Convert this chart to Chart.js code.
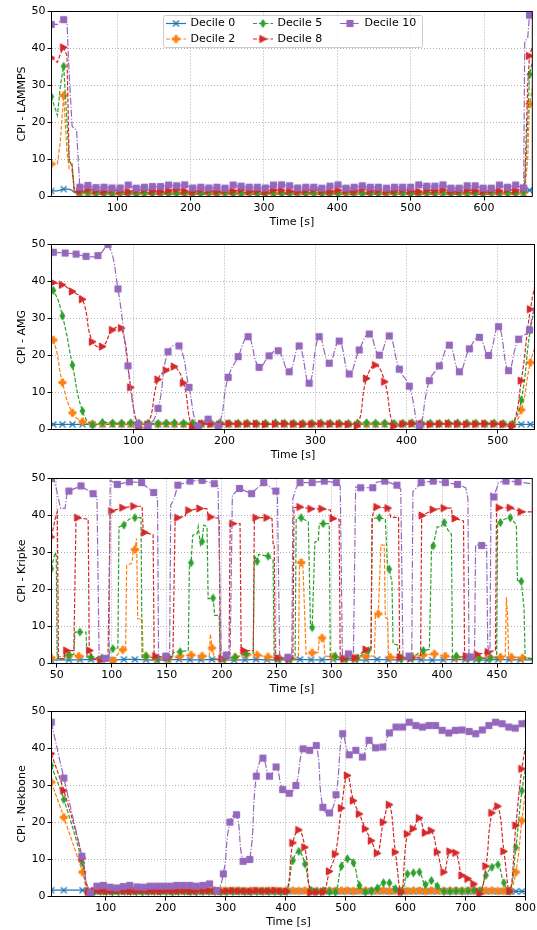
<!DOCTYPE html>
<html>
<head>
<meta charset="utf-8">
<script src="https://cdn.jsdelivr.net/npm/chart.js"></script>
<style>
  html, body { margin: 0; padding: 0; background: #fff; }
  body { width: 537px; height: 930px; position: relative; overflow: hidden; }
  canvas { position: absolute; left: 0; }
</style>
</head>
<body>
<canvas id="lammps" width="537" height="230" style="top:0px"></canvas>
<canvas id="amg" width="537" height="230" style="top:233px"></canvas>
<canvas id="kripke" width="537" height="230" style="top:467px"></canvas>
<canvas id="nekbone" width="537" height="230" style="top:700px"></canvas>
<script>
// ---- data -------------------------------------------------------------
// integer time = point with a marker, x.5 time = line-only point
const labels = ['Decile 0', 'Decile 2', 'Decile 5', 'Decile 8', 'Decile 10'];
const yTicks = [0, 10, 20, 30, 40, 50];
const lammpsTicks = [100, 200, 300, 400, 500, 600];
const amgTicks = [100, 200, 300, 400, 500];
const kripkeTicks = [50, 100, 150, 200, 250, 300, 350, 400, 450];
const nekTicks = [100, 200, 300, 400, 500, 600, 700, 800];

// LAMMPS
const lammpsTime = [10, 18.5, 22.5, 27, 31.5, 34.5, 38.5, 41.5, 44.5, 49,
  60, 71, 82, 93, 104, 115, 126, 137, 148, 159, 170,
  181, 192, 203, 214, 225, 236, 247, 258, 269, 280,
  291, 302, 313, 324, 335, 346, 357, 368, 379, 390,
  401, 412, 423, 434, 445, 456, 467, 478, 489, 500,
  511, 522, 533, 544, 555, 566, 577, 588, 599, 610,
  621, 632, 643, 654,
  655.5, 659.5, 662, 666.5];
const lammpsD10 = [46.5, 46.5, 47.6, 47.8, 47.0, 33, 19, 18.4, 18, 2.5,
  3.0, 2.4, 2.5, 2.3, 2.3, 3.1, 2.25, 2.5, 2.7, 2.7, 3.1,
  2.9, 3.15, 2.3, 2.5, 2.3, 2.5, 2.25, 3.1, 2.8, 2.5,
  2.5, 2.3, 3.1, 3.15, 2.9, 2.3, 2.5, 2.5, 2.25, 2.8,
  3.15, 2.25, 2.5, 2.9, 2.5, 2.5, 2.25, 2.5, 2.5, 2.5,
  3.15, 2.8, 2.8, 3.15, 2.25, 2.25, 2.9, 2.9, 2.25, 2.25,
  3.1, 2.5, 3.1, 2.3,
  42, 42.7, 49, 49];
const lammpsD8 = [37.5, 36.3, 38.5, 40.3, 38, 10, 8, 1.5, 1.3, 1.5,
  2.0, 1.6, 1.4, 1.8, 1.5, 1.3, 1.7, 1.9, 1.5, 1.4, 1.6,
  2.0, 1.5, 1.3, 1.8, 1.6, 1.4, 1.7, 1.5, 1.9, 1.4,
  1.6, 1.3, 1.8, 1.7, 1.5, 1.4, 1.6, 1.9, 1.5, 1.3,
  1.7, 1.6, 1.4, 2.0, 1.5, 1.7, 1.4, 1.6, 1.8, 1.5,
  1.3, 1.7, 1.6, 1.9, 1.4, 1.5, 1.8, 1.6, 1.4, 1.7,
  1.5, 1.9, 1.6, 2.2,
  3, 30, 38, 41];
const lammpsD5 = [27, 21.9, 30, 35.2, 20, 9.5, 8.8, 1.6, 1.2, 1.2,
  1.3, 1.0, 1.1, 0.9, 1.2, 1.0, 0.9, 1.1, 1.0, 1.2, 0.9,
  1.0, 1.1, 1.0, 0.9, 1.2, 1.0, 1.1, 0.9, 1.0, 1.2,
  1.0, 0.9, 1.1, 1.0, 1.0, 1.2, 0.9, 1.1, 1.0, 1.0,
  0.9, 1.2, 1.1, 1.0, 0.9, 1.0, 1.2, 1.0, 1.1, 0.9,
  1.0, 1.1, 1.0, 1.2, 0.9, 1.0, 1.1, 1.0, 0.9, 1.2,
  1.0, 1.1, 1.0, 1.3,
  2, 20, 33, 37];
const lammpsD2 = [8.8, 8.8, 15, 27.3, 12, 7.5, 7, 1.6, 1.2, 1.0,
  1.0, 0.9, 1.0, 0.8, 0.9, 1.0, 0.9, 0.8, 1.0, 0.9, 0.9,
  1.0, 0.8, 0.9, 1.0, 0.9, 0.9, 0.8, 1.0, 0.9, 0.9,
  1.0, 0.8, 0.9, 0.9, 1.0, 0.9, 0.8, 0.9, 1.0, 0.9,
  0.9, 0.8, 1.0, 0.9, 0.9, 1.0, 0.8, 0.9, 0.9, 1.0,
  0.9, 0.8, 0.9, 1.0, 0.9, 0.9, 0.8, 1.0, 0.9, 0.9,
  1.0, 0.8, 0.9, 1.1,
  1.5, 10, 25, 30];
const lammpsD0 = [1.5, 1.5, 1.8, 2.0, 2.0, 2.0, 1.6, 1.1, 1.0, 0.9,
  0.8, 0.7, 0.6, 0.7, 0.6, 0.6, 0.7, 0.6, 0.6, 0.7, 0.6,
  0.6, 0.7, 0.6, 0.6, 0.6, 0.7, 0.6, 0.6, 0.7, 0.6,
  0.6, 0.6, 0.7, 0.6, 0.6, 0.7, 0.6, 0.6, 0.6, 0.7,
  0.6, 0.6, 0.7, 0.6, 0.6, 0.6, 0.7, 0.6, 0.6, 0.7,
  0.6, 0.6, 0.6, 0.7, 0.6, 0.6, 0.7, 0.6, 0.6, 0.6,
  0.7, 0.6, 0.6, 0.8,
  1.2, 1.5, 1.7, 1.8];

// AMG (decile 10 sampled a bit more sparsely than the others)
const amgTimeA = [0.5, 12, 25, 37, 48, 61, 72, 83, 94, 105, 116,
  127, 138, 150, 161, 171, 182, 193, 204, 215, 226,
  238, 249, 259, 271, 282, 293, 304, 315, 326, 337,
  348, 359, 370, 381, 392, 403, 414, 425, 436, 447,
  458, 469, 480, 490, 501, 512, 523, 535, 546.5];
const amgD10 = [48, 47.9, 47.7, 47.4, 46.8, 47.0, 50.0, 38.0, 17.2, 1.35, 0.9,
  5.7, 21, 22.6, 11.4, 0.9, 2.8, 0.9, 14.1, 19.7, 25.1,
  16.8, 19.9, 21.3, 15.6, 22.6, 12.5, 25.1, 17.9, 23.9, 15,
  21.5, 25.8, 20.1, 25.3, 16.3, 11.7, 0.9, 13.2, 17.2, 22.8,
  15.6, 21.8, 24.9, 20, 27.8, 15.9, 24.4, 26.9, 50];
const amgTimeB = [0.5, 12, 22, 33, 44, 55, 66, 77, 87, 97, 106,
  116, 127, 136, 145, 155, 165, 175, 185, 195, 205,
  215, 225, 235, 245, 256, 266, 276, 286, 296, 306,
  316, 326, 336, 346, 356, 366, 376, 386, 396, 406,
  416, 426, 436, 446, 456, 466, 476, 486, 496, 506,
  516, 526, 536, 546.5];
const amgD8 = [40, 39.7, 39.1, 37.3, 35.2, 23.7, 22.4, 26.9, 27.4, 11.4, 0.7,
  1.3, 13.5, 16, 17, 12.6, 0.5, 1.6, 1.5, 1.4, 1.6,
  1.5, 1.5, 1.6, 1.4, 1.5, 1.6, 1.5, 1.4, 1.5, 1.6,
  1.5, 1.5, 1.4, 1.0, 13.8, 17.4, 12.9, 0.9, 1.5, 1.6,
  1.5, 1.4, 1.5, 1.6, 1.5, 1.4, 1.5, 1.6, 1.5, 1.4,
  0.9, 13.2, 32.5, 45];
const amgD5 = [40, 37.6, 30.7, 17.4, 5.0, 1.2, 1.9, 1.7, 1.7, 1.8, 1.7,
  1.7, 1.6, 1.7, 1.8, 1.7, 1.7, 1.6, 1.7, 1.8, 1.7,
  1.7, 1.7, 1.6, 1.7, 1.8, 1.7, 1.7, 1.6, 1.7, 1.8,
  1.7, 1.7, 1.6, 1.7, 1.8, 1.7, 1.7, 1.6, 1.7, 1.8,
  1.7, 1.7, 1.6, 1.7, 1.8, 1.7, 1.7, 1.6, 1.7, 1.6,
  1.5, 8, 27, 38];
const amgD2 = [28, 24.2, 12.7, 4.5, 2.1, 1.5, 1.5, 1.6, 1.5, 1.5, 1.6,
  1.5, 1.5, 1.6, 1.5, 1.5, 1.6, 1.5, 1.5, 1.6, 1.5,
  1.5, 1.6, 1.5, 1.5, 1.6, 1.5, 1.5, 1.6, 1.5, 1.5,
  1.6, 1.5, 1.5, 1.6, 1.5, 1.5, 1.6, 1.5, 1.5, 1.6,
  1.5, 1.5, 1.6, 1.5, 1.5, 1.6, 1.5, 1.5, 1.6, 1.5,
  1.2, 5.3, 18.1, 26];
const amgD0 = [1.4, 1.4, 1.4, 1.4, 1.4, 1.4, 1.4, 1.4, 1.4, 1.4, 1.4,
  1.4, 1.4, 1.4, 1.4, 1.4, 1.4, 1.4, 1.4, 1.4, 1.4,
  1.4, 1.4, 1.4, 1.4, 1.4, 1.4, 1.4, 1.4, 1.4, 1.4,
  1.4, 1.4, 1.4, 1.4, 1.4, 1.4, 1.4, 1.4, 1.4, 1.4,
  1.4, 1.4, 1.4, 1.4, 1.4, 1.4, 1.4, 1.4, 1.4, 1.4,
  1.4, 1.4, 1.4, 1.4];

// Kripke (step-like, every series has its own samples)
const kripkeD10T = [45, 47.5, 51.5, 53.5, 57.5, 59.5, 61, 72, 83, 86.5,
  88.5, 94, 97.5, 98.5, 105, 116, 127, 138, 141.5, 142.5,
  149, 152.5, 153.5, 156.5, 160, 171, 182, 193, 196.5, 199.5,
  204, 207.5, 209.5, 216, 227, 230.5, 238, 249, 250.5, 252.5,
  260, 263.5, 264.5, 267.5, 271, 282, 293, 304, 307.5, 309.5,
  315, 319.5, 321.5, 326, 337, 340.5, 348, 359, 362.5, 364.5,
  370, 372.5, 373.5, 381, 392, 403, 414, 421.5, 423.5, 424.5,
  425, 429.5, 430.5, 436, 440.5, 441.5, 443.5, 444.5, 447, 451.5,
  458, 469, 482.5];
const kripkeD10V = [50, 50, 44.6, 41.9, 41.9, 46.5, 46.6, 48, 45.9, 45,
  1.3, 1.4, 1.5, 49.5, 48.4, 49.1, 48.9, 46.2, 44.6, 1.3,
  2, 2, 42.8, 44.5, 48.2, 49.3, 49.5, 48.6, 48, 0.8,
  2.3, 2.3, 45.5, 47.3, 45.9, 47, 48.9, 46.6, 45, 1.3,
  1.7, 1.7, 44.6, 47.5, 48.9, 48.9, 49.3, 48.9, 48, 1.3,
  2.6, 2.6, 47.7, 47.5, 47.5, 49, 49.3, 48.2, 47, 1.3,
  2, 2, 46.4, 48.9, 49.3, 48.9, 48.4, 47.5, 44.6, 1.8,
  1.8, 1.8, 32, 31.9, 31.9, 5, 1.3, 46, 45, 49,
  49.3, 49.1, 48.5];
const kripkeD8T = [45, 48.5, 50.5, 51.5, 56.5, 57.5, 59, 65.5, 67.5, 69,
  78.5, 79.5, 80, 82.5, 90, 96.5, 98.5, 100, 110, 120,
  127.5, 128.5, 130, 137.5, 138.5, 140, 150, 155.5, 157.5, 160,
  166.5, 168.5, 170, 180, 186.5, 187.5, 190, 197.5, 198.5, 200,
  206.5, 207.5, 210, 216.5, 217.5, 220, 228.5, 229.5, 231, 241,
  245.5, 246.5, 247.5, 248.5, 251, 261, 264.5, 265.5, 271, 281,
  291, 298.5, 299.5, 301, 306.5, 307.5, 311, 321, 331, 335.5,
  336.5, 338.5, 341, 351, 353.5, 360.5, 361.5, 362, 372, 380.5,
  381.5, 382, 392, 402, 408.5, 409.5, 412, 419.5, 420.5, 422,
  432, 442, 448.5, 449.5, 452, 462, 472, 482.5];
const kripkeD8V = [34.2, 39, 41, 1.3, 1.3, 3.5, 3.5, 3.5, 39.6, 39.4,
  39, 3.5, 3.5, 1.3, 1.0, 1.0, 41, 41.2, 42.1, 42.5,
  42.5, 35.6, 35.4, 34.8, 1.7, 2, 1.6, 2, 39.2, 39.4,
  39.8, 41.4, 41.4, 41.9, 41.8, 40, 39.6, 39.2, 1.3, 1.3,
  1.5, 37.8, 37.8, 37.8, 3.5, 3.5, 3.5, 39.4, 39.4, 39.4,
  39.2, 32.4, 32.4, 3, 1.5, 1.2, 1.5, 42.1, 42.3, 41.8,
  41.8, 41.5, 39.2, 39.2, 39, 1.3, 1.3, 1.5, 3.8, 3.8,
  39.2, 42.3, 42.3, 42, 39.5, 39.5, 1.7, 1.7, 1.5, 1.5,
  40, 40, 41.6, 42, 42, 39.5, 39.2, 38.5, 2, 2,
  2.5, 3.1, 3.5, 41.9, 42.1, 42.1, 41, 41];
const kripkeD5T = [45, 48.5, 49.5, 50.5, 56.5, 58.5, 61, 65.5, 66.5, 71,
  76.5, 77.5, 81, 91, 97.5, 98.5, 101, 105.5, 106.5, 111,
  115.5, 121, 126.5, 127.5, 131, 142, 152, 156.5, 162, 169.5,
  170.5, 172, 173.5, 177.5, 178.5, 180.5, 182, 183.5, 186.5, 187.5,
  192, 193.5, 197.5, 198.5, 202, 212, 217.5, 222, 228.5, 229.5,
  232, 233.5, 242, 246.5, 247.5, 252, 262, 266.5, 267.5, 272,
  278.5, 280.5, 282, 284.5, 287.5, 288.5, 292, 297.5, 298.5, 303,
  313, 323, 333, 335.5, 336.5, 343, 348.5, 350.5, 352, 354.5,
  355.5, 359.5, 360.5, 363, 373, 379.5, 383, 388.5, 390.5, 392,
  395.5, 398.5, 402, 405.5, 408.5, 409.5, 413, 424, 434, 444,
  449.5, 450.5, 453, 456.5, 462, 467.5, 468.5, 472, 474.5, 475.5,
  482.5];
const kripkeD5V = [25.6, 30, 29, 1.3, 1.3, 2.3, 2.3, 2.5, 8.5, 8.5,
  8.5, 1.7, 1.7, 1.5, 1.5, 4, 4, 4.2, 36.9, 37.4,
  39, 39.4, 39.4, 1.7, 2, 1.3, 1.5, 3, 3.2, 3.5,
  27.4, 27.2, 34.7, 35, 37, 32, 33, 37.4, 37, 17.5,
  17.7, 13, 13, 1.3, 1.3, 1.7, 2.3, 2.6, 2.8, 29.2,
  27.6, 29.5, 29, 28, 1.3, 1.3, 1.3, 1.5, 39.2, 39.4,
  38.3, 9.8, 9.7, 32.9, 33, 37.8, 37.8, 37.8, 1.7, 2,
  1.3, 1.5, 3.5, 4.4, 39.2, 39.4, 39, 25.6, 25.5, 22,
  5.3, 5, 1.3, 1.3, 1.5, 3, 3.5, 3.8, 32, 31.8,
  36.9, 36.9, 38.1, 36, 35, 1.3, 2, 1.5, 1.3, 1.5,
  1.5, 38.1, 38.1, 39, 39.4, 37.5, 22.5, 22.2, 15, 1.3,
  1.3];
const kripkeD2T = [45, 61, 70, 79.5, 80.5, 91, 101, 108.5, 110, 112.5,
  113.5, 117.5, 118.5, 119.5, 121, 122.5, 123.5, 127.5, 128.5, 131,
  141, 151, 162, 172, 182, 188.5, 189.5, 191, 193.5, 202,
  212, 222, 232, 242, 252, 262, 269.5, 270.5, 272, 273.5,
  275.5, 276.5, 282, 287.5, 288.5, 291, 292.5, 293.5, 301, 311,
  321, 331, 338.5, 339.5, 342, 344.5, 347.5, 348.5, 350.5, 351.5,
  353, 363, 373, 383, 393, 403, 413, 423, 433, 443,
  453, 457.5, 458.5, 459.5, 460.5, 463, 473, 482.5];
const kripkeD2V = [1.5, 2.2, 2, 2, 1.3, 1.2, 0.8, 3.7, 3.7, 3.7,
  26.5, 27, 27.3, 31, 30.8, 33.8, 12.1, 12, 1.7, 2,
  1.3, 1.3, 2, 2.3, 2, 2, 8, 4.2, 1.3, 1.3,
  1.7, 2.3, 2.3, 1.8, 1.5, 1.3, 1.5, 27.3, 27.3, 27,
  11.2, 2.5, 2.9, 3, 6.9, 6.9, 6.9, 2, 1.8, 1.3,
  1.5, 2, 2, 13, 13.4, 32, 32, 12.5, 12, 1.7,
  1.7, 1.5, 1.8, 2.3, 2.6, 2, 1.7, 1.5, 1.5, 1.8,
  1.7, 2, 18, 13, 1.8, 1.7, 1.5, 1.5];
const kripkeD0T = [45, 61, 71, 81, 91, 101, 111, 121, 131, 141, 151,
  161, 171, 181, 191, 201, 211, 221, 231, 241, 251,
  261, 271, 281, 291, 301, 311, 321, 331, 341, 351,
  361, 371, 381, 391, 401, 411, 421, 431, 441, 451,
  461, 471, 482.5];
const kripkeD0V = [0.9, 1.0, 1.0, 1.1, 1.0, 0.9, 1.1, 1.1, 1.0, 0.9, 1.0,
  1.1, 1.0, 1.0, 1.1, 1.0, 0.9, 1.0, 1.1, 1.0, 1.0,
  0.9, 1.1, 1.0, 1.0, 1.1, 1.0, 0.9, 1.0, 1.1, 1.0,
  1.0, 1.1, 1.0, 0.9, 1.0, 1.1, 1.0, 1.0, 0.9, 1.1,
  1.0, 1.0, 1.0];

// Nekbone
const nekTimeA = [9, 30, 60,
  74, 85, 96, 107, 118, 129, 140, 152, 163, 174,
  185, 196, 207, 218, 229, 240, 251, 262, 273, 285,
  296, 307, 318, 329, 340, 351, 362, 373, 384, 395,
  406, 417, 429, 440, 451, 462, 473, 484, 495, 506,
  517, 528, 539, 550, 562, 573, 584, 595, 606, 617,
  628, 639, 650, 661, 672, 683, 694, 706, 717, 728,
  739, 750, 761, 772, 783, 794, 805.5];
const nekD10 = [47.1, 32, 10.9,
  1.0, 2.8, 3.0, 2.5, 2.3, 2.7, 3.0, 2.6, 2.5, 2.8,
  2.8, 2.8, 2.8, 3.0, 3.0, 3.0, 2.8, 3.0, 3.4, 1.6,
  6.1, 20.1, 22.1, 9.5, 10.0, 32.5, 37.4, 32.5, 35, 28.9,
  27.9, 30, 39.9, 39.5, 40.8, 24.1, 22.6, 27.5, 44, 38.3,
  39.5, 37.7, 42.2, 40.2, 40.4, 44.2, 45.8, 45.8, 47.1, 46.2,
  45.8, 46.2, 46.2, 44.9, 44.2, 44.9, 45, 44.6, 44, 45,
  46.2, 47.1, 46.7, 45.8, 45.5, 46.7, 49];
const nekTimeB = [9, 30,
  61, 71, 81, 91, 101, 111, 121, 131, 141, 151,
  161, 171, 181, 191, 201, 211, 221, 231, 241, 251,
  262, 272, 282, 292, 302, 312, 322, 332, 342, 352,
  362, 372, 382, 392, 402, 412, 422, 432, 442, 452,
  463, 473, 483, 493, 503, 513, 523, 533, 543, 553,
  563, 573, 583, 593, 603, 613, 623, 633, 643, 653,
  664, 674, 684, 694, 704, 714, 724, 734, 744, 754,
  764, 774, 784, 794, 805.5];
const nekD8 = [38.6, 28.6,
  10.4, 1.2, 1.5, 1.6, 1.4, 1.5, 1.6, 1.5, 1.4, 1.5,
  1.6, 1.5, 1.5, 1.4, 1.6, 1.5, 1.5, 1.6, 1.4, 1.5,
  1.5, 1.6, 1.5, 1.4, 1.5, 1.6, 1.5, 1.5, 1.4, 1.6,
  1.5, 1.5, 1.6, 1.5, 1.4, 14.5, 18, 13.3, 1, 1.2,
  1.2, 6.8, 11.5, 23.9, 32.7, 25.9, 22.3, 18.3, 15.1, 11.7,
  20.1, 24.8, 12, 1.2, 16.9, 18.3, 21.2, 17.2, 17.8, 12,
  6.6, 12.2, 11.8, 5.7, 4.8, 3.4, 0.7, 8.2, 22.6, 24.4,
  12.2, 1.4, 19.2, 34.5, 45];
const nekD5 = [35.4, 26.2,
  9.1, 1.2, 1.3, 1.4, 1.3, 1.2, 1.3, 1.4, 1.3, 1.3,
  1.2, 1.3, 1.4, 1.3, 1.3, 1.2, 1.3, 1.4, 1.3, 1.2,
  1.3, 1.4, 1.3, 1.2, 1.3, 1.3, 1.4, 1.3, 1.2, 1.3,
  1.4, 1.3, 1.3, 1.2, 1.3, 9.7, 12.2, 8.8, 1.6, 1.3,
  1.4, 1.3, 1.2, 8.2, 10.2, 9.1, 3, 1.2, 1.5, 2.3,
  3.7, 3.7, 2.1, 1.2, 6.1, 6.4, 6.6, 3.2, 4.3, 2.8,
  1.4, 1.4, 1.5, 1.5, 1.5, 1.7, 1.5, 5.7, 7.9, 8.6,
  3.7, 1.4, 13.3, 28.6, 40];
const nekD2 = [30.9, 21.4,
  6.6, 1.2, 1.6, 1.5, 1.6, 1.6, 1.5, 1.6, 1.6, 1.5,
  1.6, 1.6, 1.5, 1.6, 1.6, 1.5, 1.6, 1.6, 1.5, 1.6,
  1.6, 1.5, 1.6, 1.6, 1.5, 1.6, 1.6, 1.5, 1.6, 1.6,
  1.5, 1.6, 1.6, 1.5, 1.6, 1.6, 1.5, 1.6, 1.6, 1.5,
  1.6, 1.6, 1.5, 1.6, 1.6, 1.5, 1.6, 1.6, 1.5, 1.6,
  1.6, 1.5, 1.6, 1.6, 1.5, 1.6, 1.6, 1.5, 1.6, 1.6,
  1.5, 1.6, 1.6, 1.5, 1.6, 1.6, 1.5, 1.6, 1.6, 1.5,
  1.5, 1.6, 6.6, 20.5, 36];
const nekD0 = [1.7, 1.7,
  1.7, 1.4, 1.5, 1.4, 1.5, 1.4, 1.5, 1.4, 1.5, 1.4,
  1.5, 1.4, 1.5, 1.4, 1.5, 1.4, 1.5, 1.4, 1.5, 1.4,
  1.5, 1.4, 1.5, 1.4, 1.5, 1.4, 1.5, 1.4, 1.5, 1.4,
  1.5, 1.4, 1.5, 1.4, 1.5, 1.4, 1.5, 1.4, 1.5, 1.4,
  1.5, 1.4, 1.5, 1.4, 1.5, 1.4, 1.5, 1.4, 1.5, 1.4,
  1.5, 1.4, 1.5, 1.4, 1.5, 1.4, 1.5, 1.4, 1.5, 1.4,
  1.5, 1.4, 1.5, 1.4, 1.5, 1.4, 1.5, 1.4, 1.5, 1.4,
  1.5, 1.4, 1.4, 1.4, 1.4];

// ---- style ------------------------------------------------------------
Chart.defaults.font.family = '"DejaVu Sans", sans-serif';
Chart.defaults.font.size = 11;
Chart.defaults.color = '#000';

const colors = ['#1f77b4', '#ff7f0e', '#2ca02c', '#d62728', '#9467bd'];
const dashes = [[], [4, 1.8], [4, 1.8], [4, 1.8], [7, 1.8, 1.2, 1.8]];
const shapes = ['x', 'P', 'd', '>', 's'];

function marker(shape, color) {
  const c = document.createElement('canvas');
  c.width = 11; c.height = 11;
  const g = c.getContext('2d');
  g.translate(5.5, 5.5);
  g.fillStyle = color; g.strokeStyle = color; g.lineWidth = 1;
  g.beginPath();
  if (shape === 'x') {
    g.moveTo(-3, -3); g.lineTo(3, 3); g.moveTo(-3, 3); g.lineTo(3, -3);
    g.lineWidth = 1.3; g.stroke();
    return c;
  }
  if (shape === 's') g.rect(-3.1, -3.1, 6.2, 6.2);
  if (shape === '>') { g.moveTo(3.6, 0); g.lineTo(-3.2, -3.6); g.lineTo(-3.2, 3.6); g.closePath(); }
  if (shape === 'd') { g.moveTo(0, -3.9); g.lineTo(2.4, 0); g.lineTo(0, 3.9); g.lineTo(-2.4, 0); g.closePath(); }
  if (shape === 'P') {
    const a = 1.2, b = 3.5;
    const pts = [[-a, -b], [a, -b], [a, -a], [b, -a], [b, a], [a, a], [a, b], [-a, b], [-a, a], [-b, a], [-b, -a], [-a, -a]];
    pts.forEach((p, i) => i ? g.lineTo(p[0], p[1]) : g.moveTo(p[0], p[1]));
    g.closePath();
  }
  g.fill(); g.stroke();
  return c;
}
const markerImgs = shapes.map((s, i) => marker(s, colors[i]));

function series(i, times, values, tension) {
  if (times.length !== values.length) throw new Error(labels[i] + ' length ' + times.length + ' vs ' + values.length);
  return {
    label: labels[i],
    data: times.map((t, k) => ({ x: t, y: values[k] })),
    borderColor: colors[i],
    backgroundColor: colors[i],
    borderWidth: 1.2,
    borderDash: dashes[i],
    pointStyle: markerImgs[i],
    pointRadius: ctx => (ctx.raw && Number.isInteger(ctx.raw.x)) ? 3.5 : 0,
    pointHoverRadius: 0,
    tension: tension,
    order: 4 - i
  };
}

const framePlugin = {
  id: 'frame',
  afterDatasetsDraw(chart) {
    const a = chart.chartArea, g = chart.ctx;
    g.save();
    g.strokeStyle = '#000'; g.lineWidth = 1; g.setLineDash([]);
    g.strokeRect(a.left, a.top, a.right - a.left, a.bottom - a.top);
    g.restore();
  }
};

const legendPlugin = {
  id: 'legendBox',
  afterDraw(chart) {
    const g = chart.ctx;
    g.save();
    g.fillStyle = 'rgba(255,255,255,0.8)';
    g.strokeStyle = '#cccccc'; g.lineWidth = 1;
    g.beginPath();
    if (g.roundRect) g.roundRect(163.5, 15.5, 259, 32, 2); else g.rect(163.5, 15.5, 259, 32);
    g.fill(); g.stroke();
    const cols = [166, 253, 340], rows = [23.5, 39];
    const slots = [[0, 0], [0, 1], [1, 0], [1, 1], [2, 0]];
    labels.forEach((lab, i) => {
      const x = cols[slots[i][0]], y = rows[slots[i][1]];
      g.strokeStyle = colors[i]; g.lineWidth = 1.2; g.setLineDash(dashes[i]);
      g.beginPath(); g.moveTo(x, y); g.lineTo(x + 20, y); g.stroke();
      g.setLineDash([]);
      g.drawImage(markerImgs[i], x + 10 - 5.5, y - 5.5);
      g.fillStyle = '#000'; g.font = '11px "DejaVu Sans"';
      g.textBaseline = 'middle'; g.textAlign = 'left';
      g.fillText(lab, x + 24.5, y);
    });
    g.restore();
  }
};

function makeChart(id, sets, xTicks, xMin, xMax, yTitle, padRight, extra) {
  return new Chart(document.getElementById(id), {
    type: 'line',
    data: { datasets: sets },
    options: {
      responsive: false,
      animation: false,
      devicePixelRatio: 1,
      events: [],
      layout: { padding: { top: 11.5, right: padRight, bottom: 1.5, left: 0 } },
      plugins: { legend: { display: false }, tooltip: { enabled: false } },
      scales: {
        x: {
          type: 'linear', min: xMin, max: xMax,
          afterBuildTicks: s => { s.ticks = xTicks.map(v => ({ value: v })); },
          afterFit: s => { s.height = 32; },
          grid: { color: '#b0b0b0', lineWidth: 1, tickColor: '#000', tickLength: 4, tickWidth: 1 },
          border: { display: false, dash: [1, 2] },
          ticks: { padding: 1, maxRotation: 0, minRotation: 0, autoSkip: false },
          title: { display: true, text: 'Time [s]', padding: 0 }
        },
        y: {
          min: 0, max: 50,
          afterBuildTicks: s => { s.ticks = yTicks.map(v => ({ value: v })); },
          afterFit: s => { s.width = 51.5; },
          grid: { color: '#b0b0b0', lineWidth: 1, tickColor: '#000', tickLength: 4, tickWidth: 1 },
          border: { display: false, dash: [1, 2] },
          ticks: { padding: 2 },
          title: { display: true, text: yTitle, padding: { top: 15.4, bottom: 0 } }
        }
      }
    },
    plugins: [framePlugin].concat(extra || [])
  });
}

makeChart('lammps', [
  series(0, lammpsTime, lammpsD0, 0),
  series(1, lammpsTime, lammpsD2, 0),
  series(2, lammpsTime, lammpsD5, 0),
  series(3, lammpsTime, lammpsD8, 0),
  series(4, lammpsTime, lammpsD10, 0)
], lammpsTicks, 10.4, 665.8, 'CPI - LAMMPS', 2.5, [legendPlugin]);

makeChart('amg', [
  series(0, amgTimeB, amgD0, 0.45),
  series(1, amgTimeB, amgD2, 0.45),
  series(2, amgTimeB, amgD5, 0.45),
  series(3, amgTimeB, amgD8, 0.45),
  series(4, amgTimeA, amgD10, 0.45)
], amgTicks, 10, 540.5, 'CPI - AMG', 2.5);

makeChart('kripke', [
  series(0, kripkeD0T, kripkeD0V, 0),
  series(1, kripkeD2T, kripkeD2V, 0),
  series(2, kripkeD5T, kripkeD5V, 0),
  series(3, kripkeD8T, kripkeD8V, 0),
  series(4, kripkeD10T, kripkeD10V, 0)
], kripkeTicks, 45.2, 482, 'CPI - Kripke', 2.5);

makeChart('nekbone', [
  series(0, nekTimeB, nekD0, 0.45),
  series(1, nekTimeB, nekD2, 0.45),
  series(2, nekTimeB, nekD5, 0.45),
  series(3, nekTimeB, nekD8, 0.45),
  series(4, nekTimeA, nekD10, 0.45)
], nekTicks, 9.4, 800, 'CPI - Nekbone', 11.5);
</script>
</body>
</html>
